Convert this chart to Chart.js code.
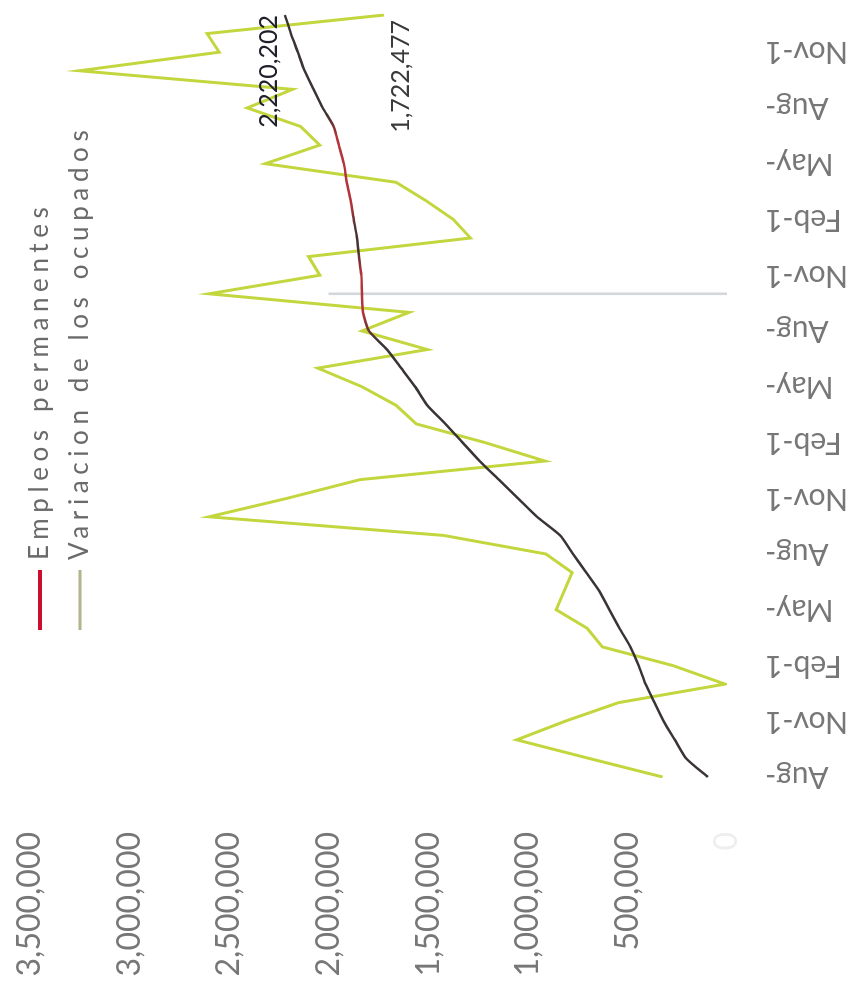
<!DOCTYPE html>
<html><head><meta charset="utf-8">
<script src="https://cdn.jsdelivr.net/npm/chart.js@4/dist/chart.umd.min.js"></script>
<style>
html,body{margin:0;padding:0;background:#fff;overflow:hidden;width:860px;height:989px;}
#wrap{position:absolute;left:0;top:0;width:989px;height:860px;transform-origin:0 0;transform:translate(0,989px) rotate(-90deg);background:#fff;}
canvas{display:block;}
</style></head><body>
<div id="wrap"><canvas id="c" width="989" height="860"></canvas></div>
<script>
const categories = [
  'Aug-','Sep-','Oct-','Nov-1','Dec-1','Jan-1','Feb-1','Mar-','Apr-','May-','Jun-','Jul-',
  'Aug-','Sep-','Oct-','Nov-1','Dec-1','Jan-1','Feb-1','Mar-','Apr-','May-','Jun-','Jul-',
  'Aug-','Sep-','Oct-','Nov-1','Dec-1','Jan-1','Feb-1','Mar-','Apr-','May-','Jun-','Jul-',
  'Aug-','Sep-','Oct-','Nov-1','Dec-1','Jan-1'
];
const seriesNames = ['Empleos permanentes', 'Variacion de los ocupados'];
const permanentes = [
  96000, 205000, 262000, 318000, 364000, 409000, 444000, 485000, 540000, 591000, 641000, 707000,
  773000, 838000, 954000, 1050000, 1146000, 1242000, 1328000, 1414000, 1505000, 1566000, 1636000, 1707000,
  1798000, 1828000, 1833000, 1836000, 1848000, 1858000, 1874000, 1889000, 1909000, 1924000, 1949000, 1975000,
  2030000, 2076000, 2121000, 2155000, 2190000, 2220202
];
const ocupados = [
  323000, 692000, 1056000, 813000, 545000, 10000, 273000, 626000, 702000, 858000, 818000, 778000,
  909000, 1424000, 2601000, 2207000, 1843000, 914000, 1217000, 1561000, 1662000, 1833000, 2055000, 1505000,
  1833000, 1596000, 2601000, 2045000, 2101000, 1288000, 1374000, 1510000, 1662000, 2318000, 2045000, 2141000,
  2409000, 2182000, 3252000, 2550000, 2611000, 1722477
];
const marcador = [
  null, null, null, null, null, null, null, null, null, null, null, null,
  null, null, null, null, null, null, null, null, null, null, null, null,
  null, null, 2000000, null, null, null, null, null, null, null, null, null,
  null, null, null, null, null, null
];
const yTicks = [0, 500000, 1000000, 1500000, 2000000, 2500000, 3000000, 3500000];

const legendColors = ['#c8102e', '#b2b28c'];
const legendWidths = [4, 3];

function redStroke(context) {
  const chart = context.chart;
  const a = chart.chartArea;
  if (!a) return '#3b3434';
  const g = chart.ctx.createLinearGradient(a.left, 0, a.right, 0);
  const stops = [[0, '#3b3434'], [0.57, '#3b3434'], [0.61, '#b3343a'], [0.66, '#b3343a'],
    [0.69, '#4a3232'], [0.72, '#4a3232'], [0.75, '#b3343a'], [0.84, '#b3343a'], [0.87, '#3b3434'], [1, '#3b3434']];
  stops.forEach(s => g.addColorStop(s[0], s[1]));
  return g;
}

const legendPlugin = {
  id: 'customLegend',
  afterDraw(chart) {
    const ctx = chart.ctx;
    ctx.save();
    const rows = [40, 80];
    ctx.font = '26px Lato';
    try { ctx.letterSpacing = '5.6px'; } catch (e) {}
    ctx.fillStyle = '#6a6a6a';
    ctx.textAlign = 'left';
    ctx.textBaseline = 'alphabetic';
    seriesNames.forEach((name, i) => {
      const y = rows[i];
      ctx.strokeStyle = legendColors[i];
      ctx.lineWidth = legendWidths[i];
      ctx.beginPath();
      ctx.moveTo(359, y);
      ctx.lineTo(419, y);
      ctx.stroke();
      ctx.fillText(name, 429, y + 8);
    });
    ctx.restore();
  }
};

const labelPlugin = {
  id: 'endLabels',
  afterDatasetsDraw(chart) {
    const ctx = chart.ctx;
    ctx.save();
    ctx.font = '25px Lato';
    ctx.textAlign = 'right';
    [0, 1].forEach(di => {
      const meta = chart.getDatasetMeta(di);
      const data = chart.data.datasets[di].data;
      const pt = meta.data[meta.data.length - 1];
      const txt = data[data.length - 1].toLocaleString('en-US');
      if (di === 0) {
        ctx.fillStyle = '#20202c';
        ctx.textBaseline = 'bottom';
        ctx.fillText(txt, pt.x, pt.y - 3);
      } else {
        ctx.fillStyle = '#3a3a3a';
        ctx.textBaseline = 'top';
        ctx.fillText(txt, pt.x - 5, pt.y + 4);
      }
    });
    ctx.restore();
  }
};

new Chart(document.getElementById('c'), {
  type: 'line',
  data: {
    labels: categories,
    datasets: [
      { label: seriesNames[0], data: permanentes, borderColor: redStroke, borderWidth: 2.5,
        pointRadius: 0, tension: 0.2, order: 0 },
      { label: seriesNames[1], data: ocupados, borderColor: '#c3d63e', borderWidth: 3,
        pointRadius: 0, tension: 0, order: 1 },
      { type: 'bar', label: 'marca', data: marcador, backgroundColor: '#d3d6da',
        barThickness: 2, order: 2 }
    ]
  },
  options: {
    responsive: false,
    animation: false,
    devicePixelRatio: 1,
    layout: { padding: { top: 30, right: 15, bottom: 0, left: 0 } },
    plugins: { legend: { display: false }, tooltip: { enabled: false } },
    scales: {
      x: {
        type: 'category', offset: false,
        grid: { display: false, drawTicks: false }, border: { display: false },
        ticks: {
          autoSkip: false, minRotation: 90, maxRotation: 90, padding: 38,
          color: '#777777', font: { family: 'Lato', size: 30 },
          callback: (v, i) => (i % 3 === 0 ? categories[i] : '')
        },
        afterFit(s) { s.height = 133; s.paddingLeft = 0; s.paddingRight = 0; }
      },
      y: {
        min: 0, max: 3500000,
        grid: { display: false, drawTicks: false }, border: { display: false },
        afterBuildTicks(s) { s.ticks = yTicks.map(v => ({ value: v })); },
        ticks: {
          padding: 55,
          color: c => (c.tick && c.tick.value === 0 ? '#eeeeee' : '#777777'),
          font: { family: 'Lato', size: 32 },
          callback: v => v.toLocaleString('en-US')
        },
        afterFit(s) { s.width = 212; s.paddingTop = 0; s.paddingBottom = 0; }
      }
    }
  },
  plugins: [legendPlugin, labelPlugin]
});
</script>
</body></html>
